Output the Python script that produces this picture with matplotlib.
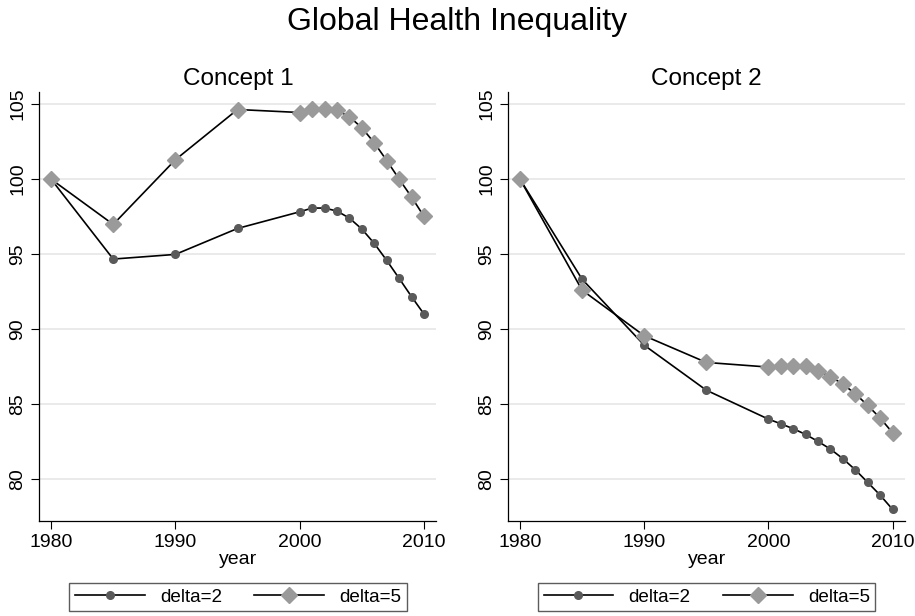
import numpy as np
import matplotlib.pyplot as plt

plt.rcParams['font.family'] = ['Liberation Sans', 'DejaVu Sans']

# Data
years = [1980, 1985, 1990, 1995, 2000, 2001, 2002, 2003, 2004, 2005, 2006, 2007, 2008, 2009, 2010]

c1_delta2 = [100.0, 94.67, 94.98, 96.71, 97.82, 98.07, 98.07, 97.87, 97.40, 96.67, 95.71, 94.58, 93.38, 92.16, 91.00]
c1_delta5 = [100.0, 96.98, 101.29, 104.64, 104.44, 104.69, 104.69, 104.58, 104.16, 103.42, 102.42, 101.24, 100.00, 98.80, 97.51]

c2_delta2 = [100.0, 93.33, 88.93, 85.93, 84.00, 83.69, 83.36, 82.98, 82.51, 82.00, 81.36, 80.62, 79.78, 78.93, 77.98]
c2_delta5 = [100.0, 92.60, 89.56, 87.78, 87.47, 87.56, 87.56, 87.51, 87.20, 86.84, 86.33, 85.69, 84.91, 84.07, 83.09]

panel_titles = ["Concept 1", "Concept 2"]
series_labels = ["delta=2", "delta=5"]
yticks = [80, 85, 90, 95, 100, 105]
xticks = [1980, 1990, 2000, 2010]

fig = plt.figure(figsize=(9.15, 6.16), dpi=100)
fig.text(0.5, 0.965, "Global Health Inequality", ha='center', va='center', fontsize=23)

axes = [fig.add_axes([0.043, 0.154, 0.434, 0.696]),
        fig.add_axes([0.5555, 0.154, 0.4336, 0.696])]
data = [(c1_delta2, c1_delta5), (c2_delta2, c2_delta5)]

for ax, title, (d2, d5) in zip(axes, panel_titles, data):
    ax.plot(years, d2, color='black', lw=1.2, marker='o', ms=5.5,
            mfc='#5a5a5a', mec='#5a5a5a', label=series_labels[0], zorder=3)
    ax.plot(years, d5, color='black', lw=1.2, marker='D', ms=8.5,
            mfc='#9a9a9a', mec='#9a9a9a', label=series_labels[1], zorder=3)
    ax.set_xlim(1979.06, 2011)
    ax.set_ylim(77.2, 105.78)
    ax.set_xticks(xticks)
    ax.set_yticks(yticks)
    ax.set_yticklabels([str(t) for t in yticks], rotation=90, va='center')
    ax.tick_params(direction='out', length=6, width=0.8, labelsize=14, colors='black')
    ax.grid(axis='y', color='#e6e6e6', lw=1.2)
    ax.set_axisbelow(True)
    for side in ['top', 'right']:
        ax.spines[side].set_visible(False)
    for side in ['left', 'bottom']:
        ax.spines[side].set_linewidth(0.9)
    ax.set_xlabel("year", fontsize=14, labelpad=0)
    ax.set_title(title, fontsize=17.5, pad=5)
    leg = ax.legend(loc='center', bbox_to_anchor=(0.5, -0.177), ncol=2, fontsize=13.6,
                    frameon=True, fancybox=False, edgecolor='#333333',
                    handlelength=3.7, columnspacing=1.7, borderpad=0.3,
                    borderaxespad=0, handletextpad=0.8)
    leg.get_frame().set_linewidth(1.0)

fig.savefig("out.png", dpi=100)
